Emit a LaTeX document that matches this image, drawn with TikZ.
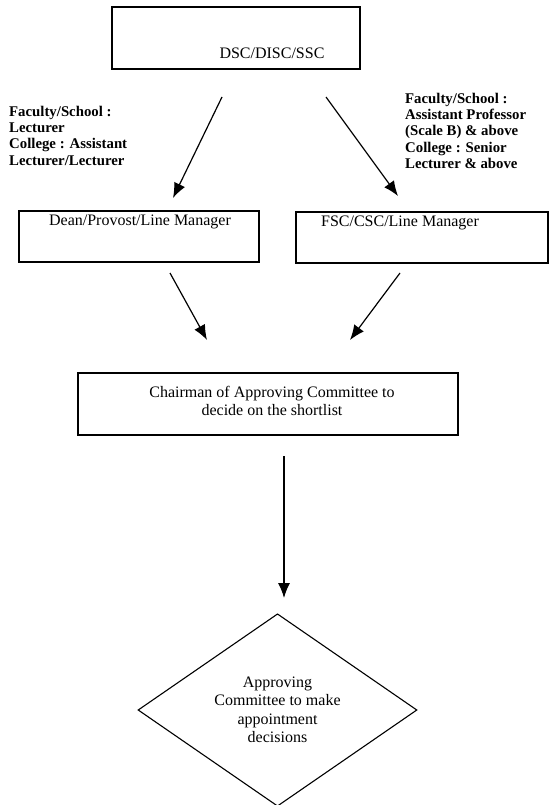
\documentclass[tikz,border=0pt]{standalone}
\usepackage{fontspec}
\setmainfont{Liberation Serif}
\usetikzlibrary{arrows.meta,shapes.geometric}
\begin{document}
\begin{tikzpicture}[x=1pt,y=-1pt,
  box/.style={draw,line width=1.1pt,rectangle,inner sep=0pt},
  lbl/.style={inner sep=0pt,font=\fontsize{16}{18.5}\selectfont},
  note/.style={inner sep=0pt,anchor=north west,align=left,font=\fontsize{14.8}{16.2}\selectfont\bfseries},
  arr/.style={line width=1.2pt,-{Latex[length=15pt,width=12pt]}}]
\useasboundingbox (0,0) rectangle (551,805);
% boxes
\node[box,minimum width=248pt,minimum height=62pt] (dsc) at (236,38) {};
\node[lbl] (dsct) at (272,53) {DSC/DISC/SSC};
\node[box,minimum width=240pt,minimum height=51pt] (dean) at (139,236.5) {};
\node[lbl] (deant) at (140,222) {Dean/Provost/Line Manager};
\node[box,minimum width=252pt,minimum height=51pt] (fsc) at (422,237.5) {};
\node[lbl] (fsct) at (400,223) {FSC/CSC/Line Manager};
\node[box,minimum width=380pt,minimum height=62pt] (chair) at (268,404) {};
\node[lbl,align=center] (chairt) at (272,401) {Chairman of Approving Committee to\\decide on the shortlist};
\node[draw,line width=1.1pt,diamond,minimum width=279pt,minimum height=190pt,inner sep=0pt,
      align=center,font=\fontsize{16}{18.5}\selectfont] (appr) at (277.5,710)
      {Approving\\Committee to make\\appointment\\decisions};
% notes
\node[note] (nl) at (9,106) {Faculty/School :\\Lecturer\\College : Assistant\\Lecturer/Lecturer};
\node[note] (nr) at (405,93) {Faculty/School :\\Assistant Professor\\(Scale B) \& above\\College : Senior\\Lecturer \& above};
% arrow end points
\coordinate (a1s) at (222,97);  \coordinate (a1e) at (173,198);
\coordinate (a2s) at (326,97);  \coordinate (a2e) at (398,196);
\coordinate (a3s) at (170,273); \coordinate (a3e) at (207,340);
\coordinate (a4s) at (400,273); \coordinate (a4e) at (350,340);
\coordinate (a5s) at (284,456); \coordinate (a5e) at (284,598);
\draw[arr] (a1s) -- (a1e);
\draw[arr] (a2s) -- (a2e);
\draw[arr] (a3s) -- (a3e);
\draw[arr] (a4s) -- (a4e);
\draw[arr] (a5s) -- (a5e);
\end{tikzpicture}
\end{document}
